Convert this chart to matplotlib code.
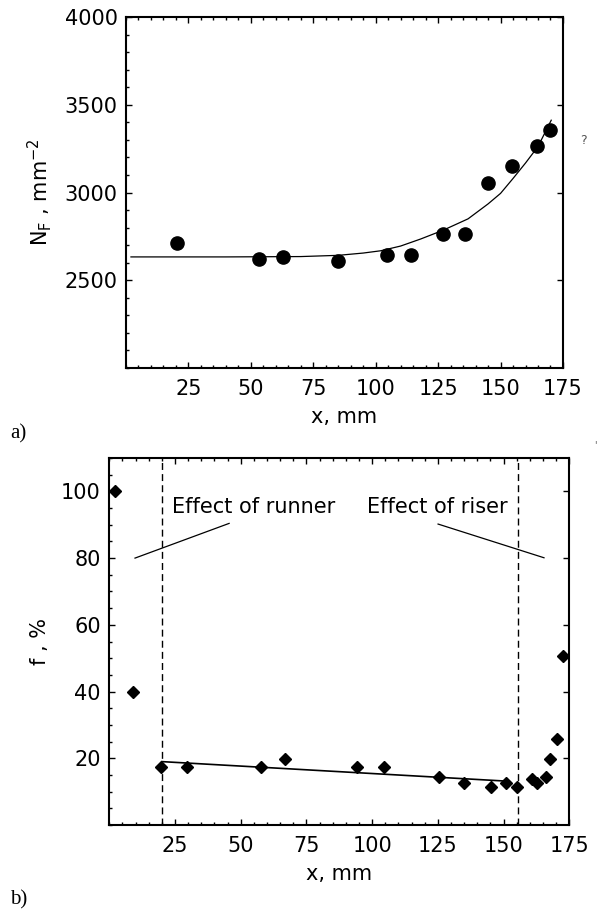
import matplotlib
matplotlib.use("Agg")
import matplotlib.pyplot as plt
from matplotlib.ticker import MultipleLocator

# panel a) - fracture density N_F along the casting
nf_x = [20.4, 53.2, 63.0, 84.9, 104.4, 114.0, 127.1, 135.7, 145.1, 154.4, 164.4, 170.0]
nf_y = [2712, 2621, 2633, 2610, 2643, 2643, 2766, 2766, 3055, 3152, 3264, 3355]

# fitted curve
fit_x = [2, 40, 70, 85, 95, 102, 110, 118, 127, 137, 145, 150, 155, 160, 165, 170.3]
fit_y = [2633, 2633, 2635, 2642, 2655, 2668, 2695, 2735, 2785, 2850, 2935, 2995,
         3080, 3168, 3262, 3412]

# panel b) - f, %
f_x = [2.2, 8.9, 19.8, 29.7, 57.7, 67.0, 94.4, 104.6, 125.4, 134.8, 145.3, 150.8,
       155.3, 160.8, 162.7, 166.3, 167.6, 170.5, 172.6]
f_y = [100, 40, 17.3, 17.3, 17.3, 19.8, 17.3, 17.3, 14.3, 12.6, 11.3, 12.6,
       11.3, 13.8, 12.6, 14.3, 19.8, 25.8, 50.6]

trend_x = [20, 150]
trend_y = [19.0, 13.2]

runner_x = 20
riser_x = 155.5

runner_leader = ([9.8, 45.6], [80.0, 90.4])
riser_leader = ([125.1, 165.4], [90.2, 80.1])

plt.rcParams['font.family'] = ['DejaVu Sans']
FS = 15

fig = plt.figure(figsize=(5.97, 9.10), dpi=100)


def style_axes(ax, xminor, yminor):
    for s in ax.spines.values():
        s.set_linewidth(1.5)
    ax.xaxis.set_minor_locator(MultipleLocator(xminor))
    ax.yaxis.set_minor_locator(MultipleLocator(yminor))
    ax.tick_params(which='both', direction='in', top=True, right=True,
                   width=1.0, labelsize=FS)
    ax.tick_params(which='major', length=4)
    ax.tick_params(which='minor', length=2.5, right=False)
    ax.tick_params(axis='x', pad=8)
    ax.tick_params(axis='y', pad=6)


# ---- a) ----
ax1 = fig.add_axes([0.211, 0.5956, 0.732, 0.3857])
ax1.plot(fit_x, fit_y, color='black', linewidth=0.9)
ax1.plot(nf_x, nf_y, 'o', color='black', markersize=9.5)
ax1.set_xlim(0, 175)
ax1.set_ylim(2000, 4000)
ax1.set_xticks([25, 50, 75, 100, 125, 150, 175])
ax1.set_yticks([2500, 3000, 3500, 4000])
style_axes(ax1, 5, 100)
ax1.set_xlabel('x, mm', fontsize=FS, labelpad=6)
ax1.set_ylabel(r'N$_\mathregular{F}$ , mm$^\mathregular{-2}$', fontsize=FS, labelpad=8)

# ---- b) ----
ax2 = fig.add_axes([0.183, 0.0934, 0.7705, 0.4033])
ax2.axvline(runner_x, color='black', linewidth=1.0, linestyle=(0, (5, 3)))
ax2.axvline(riser_x, color='black', linewidth=1.0, linestyle=(0, (5, 3)))
ax2.plot(trend_x, trend_y, color='black', linewidth=1.2)
ax2.plot(f_x, f_y, 'D', color='black', markersize=6.5)
ax2.plot(*runner_leader, color='black', linewidth=0.9)
ax2.plot(*riser_leader, color='black', linewidth=0.9)
ax2.text(23.7, 95.2, 'Effect of runner', fontsize=FS, va='center', ha='left')
ax2.text(98.1, 95.2, 'Effect of riser', fontsize=FS, va='center', ha='left')
ax2.set_xlim(0, 175)
ax2.set_ylim(0, 110)
ax2.set_xticks([25, 50, 75, 100, 125, 150, 175])
ax2.set_yticks([20, 40, 60, 80, 100])
style_axes(ax2, 5, 5)
ax2.set_xlabel('x, mm', fontsize=FS, labelpad=6)
ax2.set_ylabel('f , %', fontsize=FS, labelpad=8)

# panel letters
fig.text(0.017, 1 - 434 / 910, 'a)', family='Liberation Serif', fontsize=15, va='center')
fig.text(0.017, 1 - 900 / 910, 'b)', family='Liberation Serif', fontsize=15, va='center')

# stray marks at the right edge of the scan
fig.text(580 / 597, 1 - 141 / 910, '?', fontsize=9, color='#555555', va='center')
fig.text(594 / 597, 1 - 445 / 910, "'", fontsize=7, color='#555555', va='center')

fig.savefig('out.png', dpi=100)
